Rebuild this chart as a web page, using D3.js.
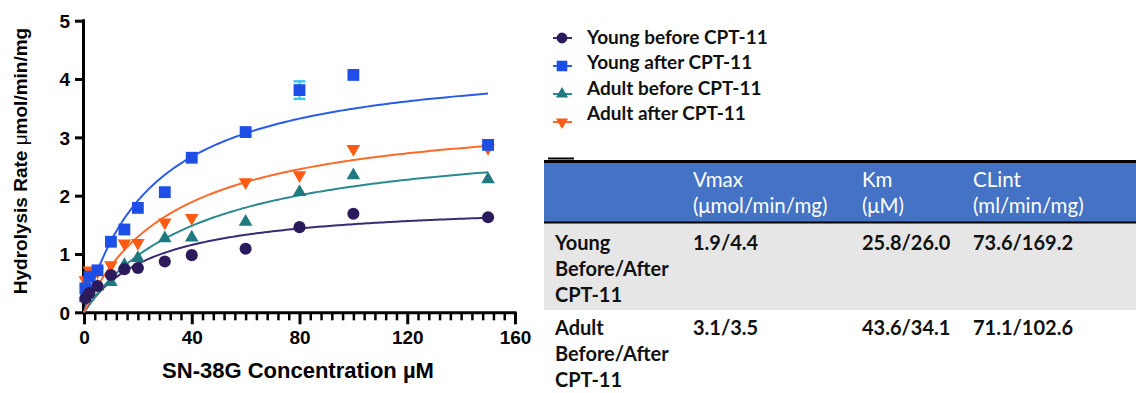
<!DOCTYPE html>
<html><head><meta charset="utf-8">
<script src="https://cdn.jsdelivr.net/npm/d3@7"></script>
<style>
html,body{margin:0;padding:0;background:#fff;}
svg{display:block;}
</style></head>
<body>
<script>
// ---------- data ----------
const seriesNames = ["Young before CPT-11","Young after CPT-11","Adult before CPT-11","Adult after CPT-11"];
const youngBeforeX = [0.5, 2, 5, 10, 15, 20, 30, 40, 60, 80, 100, 150];
const youngBeforeY = [0.24, 0.33, 0.45, 0.64, 0.74, 0.76, 0.87, 0.98, 1.09, 1.46, 1.69, 1.63];
const youngAfterX = [0.5, 2, 5, 10, 15, 20, 30, 40, 60, 80, 100, 150];
const youngAfterY = [0.41, 0.61, 0.72, 1.21, 1.42, 1.79, 2.06, 2.65, 3.09, 3.81, 4.07, 2.87];
const youngAfterErr = [0, 0, 0, 0, 0, 0, 0, 0, 0, 0.15, 0, 0];
const adultBeforeX = [0.5, 2, 5, 10, 15, 20, 30, 40, 60, 80, 100, 150];
const adultBeforeY = [0.25, 0.35, 0.44, 0.52, 0.81, 0.93, 1.27, 1.28, 1.55, 2.06, 2.35, 2.28];
const adultAfterX = [0.5, 2, 5, 10, 15, 20, 30, 40, 60, 80, 100, 150];
const adultAfterY = [0.55, 0.72, 0.70, 0.81, 1.18, 1.19, 1.54, 1.62, 2.23, 2.35, 2.80, 2.82];
// fitted Michaelis-Menten parameters (from the table)
const vmaxFit = [1.9, 4.4, 3.1, 3.5];
const kmFit = [25.8, 26.0, 43.6, 34.1];
const xTicks = [0, 40, 80, 120, 160];
const yTicks = [0, 1, 2, 3, 4, 5];
// table
const tableHeader = [["", ""], ["Vmax", "(μmol/min/mg)"], ["Km", "(μM)"], ["CLint", "(ml/min/mg)"]];
const tableRowLabels = [["Young", "Before/After", "CPT-11"], ["Adult", "Before/After", "CPT-11"]];
const tableVmax = ["1.9/4.4", "3.1/3.5"];
const tableKm = ["25.8/26.0", "43.6/34.1"];
const tableCLint = ["73.6/169.2", "71.1/102.6"];

// ---------- styles ----------
const colors = ["#2b1a5c", "#1d4fe6", "#1f7a80", "#ff5a14"];
const lineColors = ["#3a2a72", "#2a5ce8", "#2a8a8e", "#ff6a2a"];
const symbols = [d3.symbolCircle, d3.symbolSquare, d3.symbolTriangle, d3.symbolTriangle];
const rotations = [0, 0, 0, 180];
const symSize = [115, 140, 80, 80];

const W = 1136, H = 393;
const svg = d3.select("body").append("svg").attr("width", W).attr("height", H);
svg.append("rect").attr("width", W).attr("height", H).attr("fill", "#fff");

const x = d3.scaleLinear().domain([0, 160]).range([84, 515]);
const y = d3.scaleLinear().domain([0, 5]).range([312.3, 20.7]);

const axisFont = "'Liberation Sans', Arial, sans-serif";

// minor x ticks
const minorTicks = d3.range(0, 161, 4).filter(v => v % 40 !== 0);
const gxMinor = svg.append("g").attr("transform", `translate(0,${y(0)})`)
  .call(d3.axisBottom(x).tickValues(minorTicks).tickSize(8).tickFormat(""));
gxMinor.select(".domain").remove();
gxMinor.selectAll("line").attr("stroke", "#000").attr("stroke-width", 2.5);

const gx = svg.append("g").attr("transform", `translate(0,${y(0)})`)
  .call(d3.axisBottom(x).tickValues(xTicks).tickSize(12).tickSizeOuter(0).tickPadding(6).tickFormat(d3.format("d")));
gx.select(".domain").attr("stroke", "#000").attr("stroke-width", 3).attr("d", `M${x(0)-1.5},0.5H${x(160)+1.5}`);
gx.selectAll("line").attr("stroke", "#000").attr("stroke-width", 3);
gx.selectAll("text").attr("font-family", axisFont).attr("font-weight", "bold").attr("font-size", 19).attr("fill", "#000");

const gy = svg.append("g").attr("transform", `translate(${x(0)},0)`)
  .call(d3.axisLeft(y).tickValues(yTicks).tickSize(9).tickSizeOuter(0).tickPadding(5).tickFormat(d3.format("d")));
gy.select(".domain").attr("stroke", "#000").attr("stroke-width", 3).attr("d", `M-0.5,${y(5)-1.5}V${y(0)+1.5}`);
gy.selectAll("line").attr("stroke", "#000").attr("stroke-width", 3);
gy.selectAll("text").attr("font-family", axisFont).attr("font-weight", "bold").attr("font-size", 19).attr("fill", "#000").attr("dy", "0.36em");

// axis titles
svg.append("text").attr("x", 298).attr("y", 378).attr("text-anchor", "middle")
  .attr("font-family", axisFont).attr("font-weight", "bold").attr("font-size", 22).attr("fill", "#000")
  .text("SN-38G Concentration µM");
const yt = svg.append("text").attr("transform", "translate(26.5,161) rotate(-90)").attr("text-anchor", "middle")
  .attr("font-family", axisFont).attr("font-weight", "bold").attr("font-size", 19).attr("fill", "#000");
yt.append("tspan").text("Hydrolysis Rate ");
yt.append("tspan").attr("font-weight", "normal").text("μ");
yt.append("tspan").text("mol/min/mg");

// fitted curves
const curveX = d3.range(0, 150.01, 1);
const line = d3.line().x(d => x(d[0])).y(d => y(d[1]));
[0, 1, 2, 3].forEach(i => {
  const pts = curveX.map(c => [c, vmaxFit[i] * c / (kmFit[i] + c)]);
  svg.append("path").attr("d", line(pts)).attr("fill", "none")
    .attr("stroke", lineColors[i]).attr("stroke-width", 2);
});

// error bars
const ebG = svg.append("g");
youngAfterX.forEach((xv, j) => {
  const e = youngAfterErr[j];
  if (!e) return;
  const cx = x(xv), y1 = y(youngAfterY[j] + e), y2 = y(youngAfterY[j] - e);
  ebG.append("line").attr("x1", cx).attr("x2", cx).attr("y1", y1).attr("y2", y2).attr("stroke", "#3cc8f5").attr("stroke-width", 2);
  [y1, y2].forEach(yy => ebG.append("line").attr("x1", cx - 6).attr("x2", cx + 6).attr("y1", yy).attr("y2", yy).attr("stroke", "#3cc8f5").attr("stroke-width", 2.5));
});

// points
const seriesXs = [youngBeforeX, youngAfterX, adultBeforeX, adultAfterX];
const seriesYs = [youngBeforeY, youngAfterY, adultBeforeY, adultAfterY];
const drawOrder = [2, 3, 1, 0];
drawOrder.forEach(i => {
  const pts = seriesXs[i].map((xv, j) => [xv, seriesYs[i][j]]);
  svg.append("g").selectAll("path").data(pts).join("path")
    .attr("d", d3.symbol().type(symbols[i]).size(symSize[i]))
    .attr("transform", d => `translate(${x(d[0])},${y(d[1])}) rotate(${rotations[i]})`)
    .attr("fill", colors[i]);
});

// legend
const legFont = "Lato, 'Open Sans', sans-serif";
const leg = svg.append("g");
seriesNames.forEach((name, i) => {
  const my = 38 + i * 28;
  leg.append("line").attr("x1", 553).attr("x2", 572).attr("y1", my).attr("y2", my).attr("stroke", lineColors[i]).attr("stroke-width", 2);
  leg.append("path").attr("d", d3.symbol().type(symbols[i]).size(symSize[i] * 0.8))
    .attr("transform", `translate(562,${my}) rotate(${rotations[i]})`).attr("fill", colors[i]);
  leg.append("text").attr("x", 587).attr("y", 44 + i * 25.4)
    .attr("font-family", legFont).attr("font-weight", "bold").attr("font-size", 19).attr("fill", "#111")
    .text(name);
});

// table
const tb = svg.append("g");
const tL = 544, tR = 1136;
tb.append("rect").attr("x", tL).attr("y", 162).attr("width", tR - tL).attr("height", 60).attr("fill", "#4472c4");
tb.append("rect").attr("x", tL).attr("y", 223).attr("width", tR - tL).attr("height", 87).attr("fill", "#e7e6e6");
tb.append("line").attr("x1", tL).attr("x2", tR).attr("y1", 161.5).attr("y2", 161.5).attr("stroke", "#000").attr("stroke-width", 3);
tb.append("line").attr("x1", 548).attr("x2", 574).attr("y1", 158.5).attr("y2", 158.5).attr("stroke", "#000").attr("stroke-width", 2);
tb.append("line").attr("x1", tL).attr("x2", tR).attr("y1", 222.5).attr("y2", 222.5).attr("stroke", "#000").attr("stroke-width", 2);
const colX = [555, 693, 862, 973];
tableHeader.forEach((lines, c) => {
  lines.forEach((t, k) => {
    if (!t) return;
    tb.append("text").attr("x", colX[c]).attr("y", 187 + k * 25.5)
      .attr("font-family", legFont).attr("font-size", 20.5).attr("fill", "#fff").text(t);
  });
});
const rowBase = [250, 335];
tableRowLabels.forEach((lines, r) => {
  lines.forEach((t, k) => {
    tb.append("text").attr("x", colX[0]).attr("y", rowBase[r] + k * 26)
      .attr("font-family", legFont).attr("font-weight", "bold").attr("font-size", 20).attr("fill", "#111").text(t);
  });
  [tableVmax, tableKm, tableCLint].forEach((col, c) => {
    tb.append("text").attr("x", colX[c + 1]).attr("y", rowBase[r])
      .attr("font-family", legFont).attr("font-weight", "bold").attr("font-size", 20).attr("fill", "#111").text(col[r]);
  });
});
</script>
</body></html>
